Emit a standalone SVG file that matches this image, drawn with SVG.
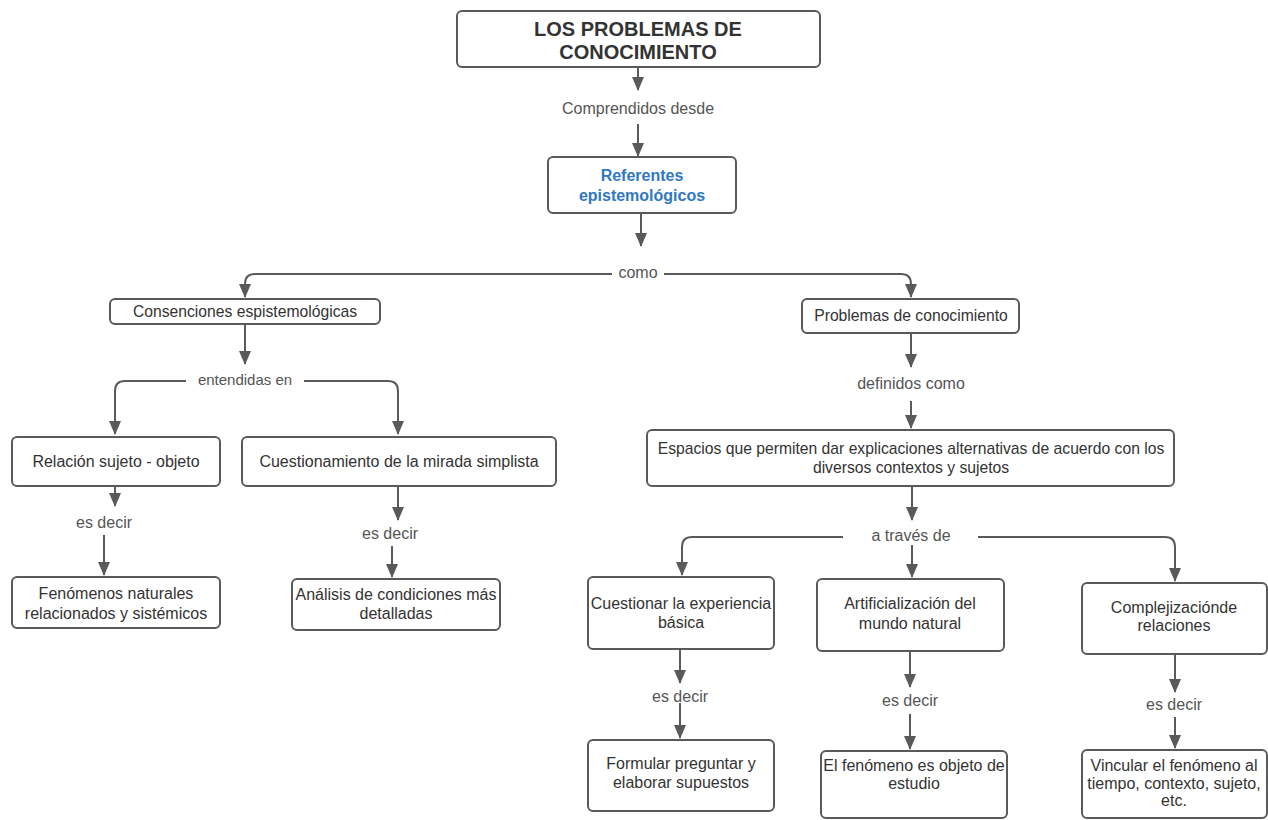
<svg xmlns="http://www.w3.org/2000/svg" width="1268" height="820" viewBox="0 0 1268 820">
  <style>
    .box { fill: #ffffff; stroke: #595959; stroke-width: 2; }
    .t { font-family: "Liberation Sans", Arial, sans-serif; font-size: 16px; fill: #333333; text-anchor: middle; }
    .t15 { font-size: 15.7px; }
    .title { font-family: "Liberation Sans", Arial, sans-serif; font-size: 20px; font-weight: bold; fill: #333333; text-anchor: middle; }
    .blue { font-family: "Liberation Sans", Arial, sans-serif; font-size: 16px; font-weight: bold; fill: #2f78c4; text-anchor: middle; }
    .lbl { font-family: "Liberation Sans", Arial, sans-serif; font-size: 16px; fill: #555555; text-anchor: middle; }
    .edge { fill: none; stroke: #5a5a5a; stroke-width: 2; marker-end: url(#arrow); }
  </style>
  <defs>
    <!-- filled triangular arrowhead, tip at the path end -->
    <marker id="arrow" markerUnits="userSpaceOnUse" markerWidth="14" markerHeight="12" viewBox="0 0 14 12" refX="13" refY="6" orient="auto">
      <path d="M0,0 L14,6 L0,12 Z" fill="#5a5a5a"/>
    </marker>
  </defs>
  <rect width="1268" height="820" fill="#ffffff"/>

  <!-- connectors -->
  <g id="connectors">
    <path class="edge" d="M638,67 V90"/>
    <path class="edge" d="M638,124 V156"/>
    <path class="edge" d="M641,213 V246"/>
    <path class="edge" d="M612,274 H255 Q245,274 245,284 V297"/>
    <path class="edge" d="M664,274 H901 Q911,274 911,284 V297"/>
    <path class="edge" d="M245,324 V364"/>
    <path class="edge" d="M186,381 H125 Q115,381 115,391 V434"/>
    <path class="edge" d="M304,381 H388 Q398,381 398,391 V434"/>
    <path class="edge" d="M115,486 V506"/>
    <path class="edge" d="M104,535 V575"/>
    <path class="edge" d="M398,486 V520"/>
    <path class="edge" d="M392,546 V577"/>
    <path class="edge" d="M911,333 V367"/>
    <path class="edge" d="M911,401 V428"/>
    <path class="edge" d="M912,486 V520"/>
    <path class="edge" d="M843,537 H692 Q682,537 682,547 V575"/>
    <path class="edge" d="M912,545 V577"/>
    <path class="edge" d="M978,537 H1165 Q1175,537 1175,547 V581"/>
    <path class="edge" d="M680,649 V683"/>
    <path class="edge" d="M680,703 V738"/>
    <path class="edge" d="M910,651 V687"/>
    <path class="edge" d="M910,714 V749"/>
    <path class="edge" d="M1175,654 V692"/>
    <path class="edge" d="M1175,717 V748"/>
  </g>

  <!-- link labels -->
  <g id="labels">
    <text class="lbl" x="638" y="114">Comprendidos desde</text>
    <text class="lbl" x="638" y="278">como</text>
    <text class="lbl" x="245" y="385" style="font-size:15px">entendidas en</text>
    <text class="lbl" x="911" y="389">definidos como</text>
    <text class="lbl" x="911" y="541">a través de</text>
    <text class="lbl" x="104" y="528">es decir</text>
    <text class="lbl" x="390" y="539">es decir</text>
    <text class="lbl" x="680" y="702">es decir</text>
    <text class="lbl" x="910" y="706">es decir</text>
    <text class="lbl" x="1174" y="710">es decir</text>
  </g>

  <g id="n-title">
    <rect class="box" x="457" y="11" width="363" height="56" rx="5"/>
    <text class="title" x="638" y="36">LOS PROBLEMAS DE</text>
    <text class="title" x="638" y="59">CONOCIMIENTO</text>
  </g>
  <g id="n-referentes">
    <rect class="box" x="548" y="157" width="188" height="56" rx="5"/>
    <text class="blue" x="642" y="181">Referentes</text>
    <text class="blue" x="642" y="201">epistemológicos</text>
  </g>
  <g id="n-consenciones">
    <rect class="box" x="110" y="299" width="270" height="25" rx="5"/>
    <text class="t t15" x="245" y="317">Consenciones espistemológicas</text>
  </g>
  <g id="n-problemas">
    <rect class="box" x="802" y="299" width="217" height="34" rx="5"/>
    <text class="t" x="911" y="321" style="font-size:15.7px">Problemas de conocimiento</text>
  </g>
  <g id="n-relacion">
    <rect class="box" x="12" y="437" width="208" height="49" rx="5"/>
    <text class="t" x="116" y="467">Relación sujeto - objeto</text>
  </g>
  <g id="n-cuestionamiento">
    <rect class="box" x="242" y="437" width="314" height="49" rx="5"/>
    <text class="t" x="399" y="467">Cuestionamiento de la mirada simplista</text>
  </g>
  <g id="n-fenomenos">
    <rect class="box" x="12" y="577" width="208" height="51" rx="5"/>
    <text class="t" x="116" y="599">Fenómenos naturales</text>
    <text class="t" x="116" y="619">relacionados y sistémicos</text>
  </g>
  <g id="n-analisis">
    <rect class="box" x="292" y="579" width="208" height="51" rx="5"/>
    <text class="t" x="396" y="600">Análisis de condiciones más</text>
    <text class="t" x="396" y="619">detalladas</text>
  </g>
  <g id="n-espacios">
    <rect class="box" x="647" y="430" width="527" height="56" rx="5"/>
    <text class="t t15" x="911" y="454">Espacios que permiten dar explicaciones alternativas de acuerdo con los</text>
    <text class="t t15" x="911" y="473">diversos contextos y sujetos</text>
  </g>
  <g id="n-cuestionar">
    <rect class="box" x="588" y="577" width="186" height="72" rx="5"/>
    <text class="t" x="681" y="609">Cuestionar la experiencia</text>
    <text class="t" x="681" y="628">básica</text>
  </g>
  <g id="n-artificializacion">
    <rect class="box" x="817" y="579" width="187" height="72" rx="5"/>
    <text class="t" x="910" y="609">Artificialización del</text>
    <text class="t" x="910" y="629">mundo natural</text>
  </g>
  <g id="n-complejizacion">
    <rect class="box" x="1082" y="583" width="185" height="71" rx="5"/>
    <text class="t" x="1174" y="613">Complejizaciónde</text>
    <text class="t" x="1174" y="631">relaciones</text>
  </g>
  <g id="n-formular">
    <rect class="box" x="588" y="740" width="186" height="71" rx="5"/>
    <text class="t" x="681" y="769">Formular preguntar y</text>
    <text class="t" x="681" y="788">elaborar supuestos</text>
  </g>
  <g id="n-fenomeno-objeto">
    <rect class="box" x="821" y="751" width="186" height="67" rx="5"/>
    <text class="t" x="914" y="771">El fenómeno es objeto de</text>
    <text class="t" x="914" y="789">estudio</text>
  </g>
  <g id="n-vincular">
    <rect class="box" x="1082" y="750" width="185" height="68" rx="5"/>
    <text class="t" x="1174" y="771">Vincular el fenómeno al</text>
    <text class="t" x="1174" y="789">tiempo, contexto, sujeto,</text>
    <text class="t" x="1174" y="806">etc.</text>
  </g>
</svg>
